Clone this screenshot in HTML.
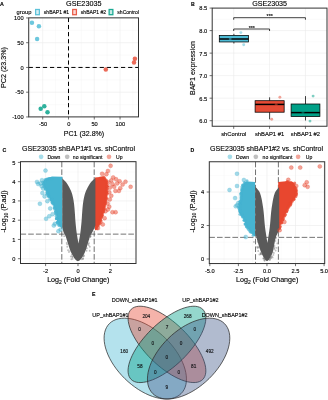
<!DOCTYPE html>
<html lang="en"><head><meta charset="utf-8"><title>GSE23035 BAP1 knockdown figure</title>
<style>html,body{margin:0;padding:0;background:#fff}svg{display:block;will-change:transform}text{font-family:"Liberation Sans",sans-serif;stroke:#000;stroke-width:0.16px;stroke-opacity:0.75}</style></head><body>
<svg width="328" height="400" viewBox="0 0 328 400">
<rect x="0" y="0" width="328" height="400" fill="#ffffff"/>
<text x="0.1" y="6" font-size="5.3" text-anchor="start" fill="#000" font-weight="bold">A</text>
<text x="83.8" y="6.1" font-size="7.25" text-anchor="middle" fill="#000">GSE23035</text>
<text x="16.6" y="14.2" font-size="5.8" text-anchor="start" fill="#000">group</text>
<rect x="35.65" y="9.5" width="3.7" height="5.2" fill="#ffffff" stroke="#4DBBD5" stroke-width="1.3" stroke-opacity="0.9"/>
<rect x="36.3" y="10.15" width="2.4" height="3.9" fill="#4DBBD5" fill-opacity="0.22"/>
<text x="43.8" y="14.15" font-size="5.05" text-anchor="start" fill="#000">shBAP1 #1</text>
<rect x="72.7" y="9.5" width="3.7" height="5.2" fill="#ffffff" stroke="#E64B35" stroke-width="1.3" stroke-opacity="0.9"/>
<rect x="73.35" y="10.15" width="2.4" height="3.9" fill="#E64B35" fill-opacity="0.22"/>
<text x="80.85" y="14.15" font-size="5.05" text-anchor="start" fill="#000">shBAP1 #2</text>
<rect x="109.15" y="9.5" width="3.7" height="5.2" fill="#ffffff" stroke="#00A087" stroke-width="1.3" stroke-opacity="0.9"/>
<rect x="109.8" y="10.15" width="2.4" height="3.9" fill="#00A087" fill-opacity="0.22"/>
<text x="117.3" y="14.15" font-size="5.05" text-anchor="start" fill="#000">shControl</text>
<rect x="28.7" y="17.85" width="109.8" height="99.05" fill="#ffffff"/>
<line x1="28.7" y1="104.58" x2="138.5" y2="104.58" stroke="#f3f3f3" stroke-width="0.35"/>
<line x1="28.7" y1="79.83" x2="138.5" y2="79.83" stroke="#f3f3f3" stroke-width="0.35"/>
<line x1="28.7" y1="55.08" x2="138.5" y2="55.08" stroke="#f3f3f3" stroke-width="0.35"/>
<line x1="28.7" y1="30.33" x2="138.5" y2="30.33" stroke="#f3f3f3" stroke-width="0.35"/>
<line x1="29.83" y1="17.85" x2="29.83" y2="116.9" stroke="#f3f3f3" stroke-width="0.35"/>
<line x1="55.61" y1="17.85" x2="55.61" y2="116.9" stroke="#f3f3f3" stroke-width="0.35"/>
<line x1="81.39" y1="17.85" x2="81.39" y2="116.9" stroke="#f3f3f3" stroke-width="0.35"/>
<line x1="107.17" y1="17.85" x2="107.17" y2="116.9" stroke="#f3f3f3" stroke-width="0.35"/>
<line x1="132.95" y1="17.85" x2="132.95" y2="116.9" stroke="#f3f3f3" stroke-width="0.35"/>
<line x1="28.7" y1="92.2" x2="138.5" y2="92.2" stroke="#ebebeb" stroke-width="0.6"/>
<line x1="28.7" y1="67.45" x2="138.5" y2="67.45" stroke="#ebebeb" stroke-width="0.6"/>
<line x1="28.7" y1="42.7" x2="138.5" y2="42.7" stroke="#ebebeb" stroke-width="0.6"/>
<line x1="42.72" y1="17.85" x2="42.72" y2="116.9" stroke="#ebebeb" stroke-width="0.6"/>
<line x1="68.5" y1="17.85" x2="68.5" y2="116.9" stroke="#ebebeb" stroke-width="0.6"/>
<line x1="94.28" y1="17.85" x2="94.28" y2="116.9" stroke="#ebebeb" stroke-width="0.6"/>
<line x1="120.06" y1="17.85" x2="120.06" y2="116.9" stroke="#ebebeb" stroke-width="0.6"/>
<line x1="28.7" y1="67.45" x2="138.5" y2="67.45" stroke="#000" stroke-width="1" stroke-dasharray="4.2 2.9"/>
<line x1="68.5" y1="17.85" x2="68.5" y2="116.9" stroke="#000" stroke-width="1" stroke-dasharray="4.2 2.9"/>
<circle cx="31.95" cy="22.75" r="2.25" fill="#4DBBD5" fill-opacity="0.82"/>
<circle cx="38.9" cy="26.2" r="2.25" fill="#4DBBD5" fill-opacity="0.82"/>
<circle cx="37.1" cy="39" r="2.25" fill="#4DBBD5" fill-opacity="0.82"/>
<circle cx="40.7" cy="108.7" r="2.25" fill="#00A087" fill-opacity="0.82"/>
<circle cx="44.3" cy="106.3" r="2.25" fill="#00A087" fill-opacity="0.82"/>
<circle cx="47.5" cy="112.3" r="2.25" fill="#00A087" fill-opacity="0.82"/>
<circle cx="105.8" cy="69.45" r="2.25" fill="#E64B35" fill-opacity="0.82"/>
<circle cx="134.9" cy="58.7" r="2.25" fill="#E64B35" fill-opacity="0.82"/>
<circle cx="134" cy="62.5" r="2.25" fill="#E64B35" fill-opacity="0.82"/>
<rect x="28.7" y="17.85" width="109.8" height="99.05" fill="none" stroke="#333333" stroke-width="1"/>
<line x1="26.1" y1="116.95" x2="28.7" y2="116.95" stroke="#333333" stroke-width="0.7"/>
<text x="23.6" y="119.05" font-size="5.7" text-anchor="end" fill="#000">-100</text>
<line x1="26.1" y1="92.2" x2="28.7" y2="92.2" stroke="#333333" stroke-width="0.7"/>
<text x="23.6" y="94.3" font-size="5.7" text-anchor="end" fill="#000">-50</text>
<line x1="26.1" y1="67.45" x2="28.7" y2="67.45" stroke="#333333" stroke-width="0.7"/>
<text x="23.6" y="69.55" font-size="5.7" text-anchor="end" fill="#000">0</text>
<line x1="26.1" y1="42.7" x2="28.7" y2="42.7" stroke="#333333" stroke-width="0.7"/>
<text x="23.6" y="44.8" font-size="5.7" text-anchor="end" fill="#000">50</text>
<line x1="26.1" y1="17.95" x2="28.7" y2="17.95" stroke="#333333" stroke-width="0.7"/>
<text x="23.6" y="20.05" font-size="5.7" text-anchor="end" fill="#000">100</text>
<line x1="42.72" y1="116.9" x2="42.72" y2="119.5" stroke="#333333" stroke-width="0.7"/>
<text x="43.02" y="126.3" font-size="5.7" text-anchor="middle" fill="#000">-50</text>
<line x1="68.5" y1="116.9" x2="68.5" y2="119.5" stroke="#333333" stroke-width="0.7"/>
<text x="68.8" y="126.3" font-size="5.7" text-anchor="middle" fill="#000">0</text>
<line x1="94.28" y1="116.9" x2="94.28" y2="119.5" stroke="#333333" stroke-width="0.7"/>
<text x="94.58" y="126.3" font-size="5.7" text-anchor="middle" fill="#000">50</text>
<line x1="120.06" y1="116.9" x2="120.06" y2="119.5" stroke="#333333" stroke-width="0.7"/>
<text x="120.36" y="126.3" font-size="5.7" text-anchor="middle" fill="#000">100</text>
<text x="84" y="135.5" font-size="7.05" text-anchor="middle" fill="#000">PC1 (32.8%)</text>
<text x="6.4" y="67.5" font-size="7.15" text-anchor="middle" fill="#000" transform="rotate(-90 6.4 67.5)">PC2 (23.3%)</text>
<text x="191.1" y="6.1" font-size="5.2" text-anchor="start" fill="#000" font-weight="bold">B</text>
<text x="269.6" y="5.8" font-size="7.15" text-anchor="middle" fill="#000">GSE23035</text>
<rect x="212.2" y="8.1" width="114.8" height="118.15" fill="#ffffff"/>
<line x1="212.2" y1="109.44" x2="327" y2="109.44" stroke="#f3f3f3" stroke-width="0.35"/>
<line x1="212.2" y1="86.91" x2="327" y2="86.91" stroke="#f3f3f3" stroke-width="0.35"/>
<line x1="212.2" y1="64.39" x2="327" y2="64.39" stroke="#f3f3f3" stroke-width="0.35"/>
<line x1="212.2" y1="41.86" x2="327" y2="41.86" stroke="#f3f3f3" stroke-width="0.35"/>
<line x1="212.2" y1="19.34" x2="327" y2="19.34" stroke="#f3f3f3" stroke-width="0.35"/>
<line x1="212.2" y1="120.7" x2="327" y2="120.7" stroke="#ebebeb" stroke-width="0.6"/>
<line x1="212.2" y1="98.18" x2="327" y2="98.18" stroke="#ebebeb" stroke-width="0.6"/>
<line x1="212.2" y1="75.65" x2="327" y2="75.65" stroke="#ebebeb" stroke-width="0.6"/>
<line x1="212.2" y1="53.13" x2="327" y2="53.13" stroke="#ebebeb" stroke-width="0.6"/>
<line x1="212.2" y1="30.6" x2="327" y2="30.6" stroke="#ebebeb" stroke-width="0.6"/>
<line x1="233.7" y1="8.1" x2="233.7" y2="126.25" stroke="#ebebeb" stroke-width="0.6"/>
<line x1="269.55" y1="8.1" x2="269.55" y2="126.25" stroke="#ebebeb" stroke-width="0.6"/>
<line x1="305.45" y1="8.1" x2="305.45" y2="126.25" stroke="#ebebeb" stroke-width="0.6"/>
<line x1="233.9" y1="33.8" x2="233.9" y2="35.4" stroke="#000" stroke-width="0.75"/>
<line x1="233.9" y1="41.95" x2="233.9" y2="43.5" stroke="#000" stroke-width="0.75"/>
<rect x="219.3" y="35.4" width="29.2" height="6.55" fill="#4DBBD5" stroke="#000" stroke-width="0.75"/>
<line x1="219.3" y1="39" x2="248.5" y2="39" stroke="#000" stroke-width="1.5"/>
<line x1="269.62" y1="97.3" x2="269.62" y2="100.7" stroke="#000" stroke-width="0.75"/>
<line x1="269.62" y1="112.2" x2="269.62" y2="119.3" stroke="#000" stroke-width="0.75"/>
<rect x="255.1" y="100.7" width="29.05" height="11.5" fill="#E64B35" stroke="#000" stroke-width="0.75"/>
<line x1="255.1" y1="104.4" x2="284.15" y2="104.4" stroke="#000" stroke-width="1.5"/>
<line x1="305.5" y1="96.1" x2="305.5" y2="104" stroke="#000" stroke-width="0.75"/>
<line x1="305.5" y1="116.6" x2="305.5" y2="120.5" stroke="#000" stroke-width="0.75"/>
<rect x="291.1" y="104" width="28.8" height="12.6" fill="#00A087" stroke="#000" stroke-width="0.75"/>
<line x1="291.1" y1="112.6" x2="319.9" y2="112.6" stroke="#000" stroke-width="1.5"/>
<circle cx="240.85" cy="32.6" r="1.45" fill="#4DBBD5" fill-opacity="0.5"/>
<circle cx="243.7" cy="44.75" r="1.45" fill="#4DBBD5" fill-opacity="0.5"/>
<circle cx="230.2" cy="39" r="1.45" fill="#4DBBD5" fill-opacity="0.5"/>
<circle cx="279.9" cy="97.3" r="1.45" fill="#E64B35" fill-opacity="0.5"/>
<circle cx="271.7" cy="119.3" r="1.45" fill="#E64B35" fill-opacity="0.5"/>
<circle cx="276.2" cy="104.6" r="1.45" fill="#E64B35" fill-opacity="0.5"/>
<circle cx="313.1" cy="96.1" r="1.45" fill="#00A087" fill-opacity="0.5"/>
<circle cx="310" cy="121.1" r="1.45" fill="#00A087" fill-opacity="0.5"/>
<circle cx="303" cy="112.6" r="1.45" fill="#00A087" fill-opacity="0.5"/>
<polyline points="233.7,31 233.7,29 269.55,29 269.55,31" fill="none" stroke="#000" stroke-width="0.75"/>
<text x="251.82" y="29.6" font-size="5.4" text-anchor="middle" fill="#000">***</text>
<polyline points="233.7,19.7 233.7,17.7 305.45,17.7 305.45,19.7" fill="none" stroke="#000" stroke-width="0.75"/>
<text x="269.77" y="18.3" font-size="5.4" text-anchor="middle" fill="#000">***</text>
<rect x="212.2" y="8.1" width="114.8" height="118.15" fill="none" stroke="#333333" stroke-width="1"/>
<line x1="209.6" y1="120.7" x2="212.2" y2="120.7" stroke="#333333" stroke-width="0.7"/>
<text x="207.2" y="123.1" font-size="5.7" text-anchor="end" fill="#000">6.0</text>
<line x1="209.6" y1="98.18" x2="212.2" y2="98.18" stroke="#333333" stroke-width="0.7"/>
<text x="207.2" y="100.58" font-size="5.7" text-anchor="end" fill="#000">6.5</text>
<line x1="209.6" y1="75.65" x2="212.2" y2="75.65" stroke="#333333" stroke-width="0.7"/>
<text x="207.2" y="78.05" font-size="5.7" text-anchor="end" fill="#000">7.0</text>
<line x1="209.6" y1="53.13" x2="212.2" y2="53.13" stroke="#333333" stroke-width="0.7"/>
<text x="207.2" y="55.53" font-size="5.7" text-anchor="end" fill="#000">7.5</text>
<line x1="209.6" y1="30.6" x2="212.2" y2="30.6" stroke="#333333" stroke-width="0.7"/>
<text x="207.2" y="33" font-size="5.7" text-anchor="end" fill="#000">8.0</text>
<line x1="209.6" y1="8.08" x2="212.2" y2="8.08" stroke="#333333" stroke-width="0.7"/>
<text x="207.2" y="10.48" font-size="5.7" text-anchor="end" fill="#000">8.5</text>
<line x1="233.7" y1="126.25" x2="233.7" y2="128.85" stroke="#333333" stroke-width="0.7"/>
<text x="233.7" y="135.65" font-size="5.85" text-anchor="middle" fill="#000">shControl</text>
<line x1="269.55" y1="126.25" x2="269.55" y2="128.85" stroke="#333333" stroke-width="0.7"/>
<text x="269.55" y="135.65" font-size="5.85" text-anchor="middle" fill="#000">shBAP1 #1</text>
<line x1="305.45" y1="126.25" x2="305.45" y2="128.85" stroke="#333333" stroke-width="0.7"/>
<text x="305.45" y="135.65" font-size="5.85" text-anchor="middle" fill="#000">shBAP1 #2</text>
<text x="194.5" y="68" font-size="7.05" text-anchor="middle" fill="#000" transform="rotate(-90 194.5 68)">BAP1 expression</text>
<text x="2.6" y="152.4" font-size="5.2" text-anchor="start" fill="#000" font-weight="bold">C</text>
<text x="78.6" y="150.8" font-size="7.07" text-anchor="middle" fill="#000">GSE23035 shBAP1#1 vs. shControl</text>
<circle cx="41.1" cy="156.8" r="2.35" fill="#4DBBD5" fill-opacity="0.5"/>
<text x="47.4" y="158.55" font-size="5.1" text-anchor="start" fill="#000">Down</text>
<circle cx="67.2" cy="156.8" r="2.35" fill="#808080" fill-opacity="0.5"/>
<text x="72.8" y="158.55" font-size="5.1" text-anchor="start" fill="#000">no significant</text>
<circle cx="109" cy="156.8" r="2.35" fill="#E64B35" fill-opacity="0.5"/>
<text x="116" y="158.55" font-size="5.1" text-anchor="start" fill="#000">Up</text>
<rect x="20.5" y="161.65" width="115.5" height="101.85" fill="#ffffff"/>
<line x1="29.4" y1="161.65" x2="29.4" y2="263.5" stroke="#f3f3f3" stroke-width="0.35"/>
<line x1="61.8" y1="161.65" x2="61.8" y2="263.5" stroke="#f3f3f3" stroke-width="0.35"/>
<line x1="94.2" y1="161.65" x2="94.2" y2="263.5" stroke="#f3f3f3" stroke-width="0.35"/>
<line x1="126.6" y1="161.65" x2="126.6" y2="263.5" stroke="#f3f3f3" stroke-width="0.35"/>
<line x1="20.5" y1="249.07" x2="136" y2="249.07" stroke="#f3f3f3" stroke-width="0.35"/>
<line x1="20.5" y1="229.81" x2="136" y2="229.81" stroke="#f3f3f3" stroke-width="0.35"/>
<line x1="20.5" y1="210.55" x2="136" y2="210.55" stroke="#f3f3f3" stroke-width="0.35"/>
<line x1="20.5" y1="191.29" x2="136" y2="191.29" stroke="#f3f3f3" stroke-width="0.35"/>
<line x1="20.5" y1="172.03" x2="136" y2="172.03" stroke="#f3f3f3" stroke-width="0.35"/>
<line x1="45.6" y1="161.65" x2="45.6" y2="263.5" stroke="#ebebeb" stroke-width="0.6"/>
<line x1="78" y1="161.65" x2="78" y2="263.5" stroke="#ebebeb" stroke-width="0.6"/>
<line x1="110.4" y1="161.65" x2="110.4" y2="263.5" stroke="#ebebeb" stroke-width="0.6"/>
<line x1="20.5" y1="258.7" x2="136" y2="258.7" stroke="#ebebeb" stroke-width="0.6"/>
<line x1="20.5" y1="239.44" x2="136" y2="239.44" stroke="#ebebeb" stroke-width="0.6"/>
<line x1="20.5" y1="220.18" x2="136" y2="220.18" stroke="#ebebeb" stroke-width="0.6"/>
<line x1="20.5" y1="200.92" x2="136" y2="200.92" stroke="#ebebeb" stroke-width="0.6"/>
<line x1="20.5" y1="181.66" x2="136" y2="181.66" stroke="#ebebeb" stroke-width="0.6"/>
<line x1="20.5" y1="162.4" x2="136" y2="162.4" stroke="#ebebeb" stroke-width="0.6"/>
<line x1="20.5" y1="234.14" x2="136" y2="234.14" stroke="#444444" stroke-width="0.75" stroke-dasharray="5.6 2.1"/>
<line x1="61.8" y1="161.65" x2="61.8" y2="263.5" stroke="#444444" stroke-width="0.75" stroke-dasharray="5.6 2.1"/>
<line x1="94.2" y1="161.65" x2="94.2" y2="263.5" stroke="#444444" stroke-width="0.75" stroke-dasharray="5.6 2.1"/>
<g clip-path="url(#clipC)">
<clipPath id="clipC"><rect x="20.5" y="161.65" width="115.5" height="101.85"/></clipPath>
<polygon points="62.4,176.7 52,176.5 47.5,178 44.2,179.8 43,182.5 43.6,185.6 45.5,188.8 46.8,193.8 49.3,197.5 51.8,202.5 54.3,207.5 56.1,213.8 56.6,219 57.6,223.5 59.6,226.6 62.4,228.2" fill="#46B4D1"/>
<circle cx="51.55" cy="179.06" r="1.5" fill="#46B4D1" fill-opacity="0.7"/>
<circle cx="50.46" cy="178.41" r="1.5" fill="#46B4D1" fill-opacity="0.7"/>
<circle cx="49.33" cy="178.57" r="1.5" fill="#46B4D1" fill-opacity="0.7"/>
<circle cx="48.23" cy="178.77" r="1.5" fill="#46B4D1" fill-opacity="0.7"/>
<circle cx="46.96" cy="178.96" r="1.5" fill="#46B4D1" fill-opacity="0.7"/>
<circle cx="46.37" cy="179.78" r="1.5" fill="#46B4D1" fill-opacity="0.7"/>
<circle cx="45.28" cy="179.49" r="1.5" fill="#46B4D1" fill-opacity="0.7"/>
<circle cx="44.88" cy="181.56" r="1.5" fill="#46B4D1" fill-opacity="0.7"/>
<circle cx="42.8" cy="182.09" r="1.5" fill="#46B4D1" fill-opacity="0.7"/>
<circle cx="43.66" cy="184.28" r="1.5" fill="#46B4D1" fill-opacity="0.7"/>
<circle cx="43.2" cy="184.06" r="1.5" fill="#46B4D1" fill-opacity="0.7"/>
<circle cx="43.97" cy="186.18" r="1.5" fill="#46B4D1" fill-opacity="0.7"/>
<circle cx="44.73" cy="187.45" r="1.5" fill="#46B4D1" fill-opacity="0.7"/>
<circle cx="45.44" cy="188.65" r="1.5" fill="#46B4D1" fill-opacity="0.7"/>
<circle cx="45.74" cy="189.49" r="1.5" fill="#46B4D1" fill-opacity="0.7"/>
<circle cx="46.95" cy="192.05" r="1.5" fill="#46B4D1" fill-opacity="0.7"/>
<circle cx="47.06" cy="192.82" r="1.5" fill="#46B4D1" fill-opacity="0.7"/>
<circle cx="47.56" cy="193.96" r="1.5" fill="#46B4D1" fill-opacity="0.7"/>
<circle cx="46.8" cy="194.17" r="1.5" fill="#46B4D1" fill-opacity="0.7"/>
<circle cx="48.44" cy="195.85" r="1.5" fill="#46B4D1" fill-opacity="0.7"/>
<circle cx="48.74" cy="196.31" r="1.5" fill="#46B4D1" fill-opacity="0.7"/>
<circle cx="48.76" cy="196.66" r="1.5" fill="#46B4D1" fill-opacity="0.7"/>
<circle cx="51.6" cy="198.67" r="1.5" fill="#46B4D1" fill-opacity="0.7"/>
<circle cx="49.79" cy="198.9" r="1.5" fill="#46B4D1" fill-opacity="0.7"/>
<circle cx="51.19" cy="199.91" r="1.5" fill="#46B4D1" fill-opacity="0.7"/>
<circle cx="51.27" cy="200.09" r="1.5" fill="#46B4D1" fill-opacity="0.7"/>
<circle cx="51.98" cy="199.52" r="1.5" fill="#46B4D1" fill-opacity="0.7"/>
<circle cx="52" cy="202.62" r="1.5" fill="#46B4D1" fill-opacity="0.7"/>
<circle cx="52.24" cy="201.92" r="1.5" fill="#46B4D1" fill-opacity="0.7"/>
<circle cx="52.68" cy="203.08" r="1.5" fill="#46B4D1" fill-opacity="0.7"/>
<circle cx="53.02" cy="203.89" r="1.5" fill="#46B4D1" fill-opacity="0.7"/>
<circle cx="54.45" cy="208.32" r="1.5" fill="#46B4D1" fill-opacity="0.7"/>
<circle cx="54.17" cy="206.98" r="1.5" fill="#46B4D1" fill-opacity="0.7"/>
<circle cx="54.6" cy="208.52" r="1.5" fill="#46B4D1" fill-opacity="0.7"/>
<circle cx="55.24" cy="210.78" r="1.5" fill="#46B4D1" fill-opacity="0.7"/>
<circle cx="55.6" cy="212.06" r="1.5" fill="#46B4D1" fill-opacity="0.7"/>
<circle cx="55.61" cy="212.06" r="1.5" fill="#46B4D1" fill-opacity="0.7"/>
<circle cx="55.9" cy="213.55" r="1.5" fill="#46B4D1" fill-opacity="0.7"/>
<circle cx="55.95" cy="214.1" r="1.5" fill="#46B4D1" fill-opacity="0.7"/>
<circle cx="56.28" cy="216.33" r="1.5" fill="#46B4D1" fill-opacity="0.7"/>
<circle cx="56.49" cy="218.5" r="1.5" fill="#46B4D1" fill-opacity="0.7"/>
<circle cx="56.53" cy="218.68" r="1.5" fill="#46B4D1" fill-opacity="0.7"/>
<circle cx="56.48" cy="218.47" r="1.5" fill="#46B4D1" fill-opacity="0.7"/>
<circle cx="57.32" cy="222.23" r="1.5" fill="#46B4D1" fill-opacity="0.7"/>
<circle cx="57.34" cy="222.34" r="1.5" fill="#46B4D1" fill-opacity="0.7"/>
<circle cx="57.61" cy="223.05" r="1.5" fill="#46B4D1" fill-opacity="0.7"/>
<circle cx="58.53" cy="224.34" r="1.5" fill="#46B4D1" fill-opacity="0.7"/>
<circle cx="58.95" cy="225.54" r="1.5" fill="#46B4D1" fill-opacity="0.7"/>
<polygon points="95,177.5 100,176.9 103.5,176.6 106.6,180 107.4,185 107.2,194.4 106.8,197.5 106.1,201.25 104.9,207.5 103.2,213.75 100.9,220 98.9,225.6 96.9,229.2 95,230.4" fill="#E8472F"/>
<circle cx="100.22" cy="178.1" r="1.5" fill="#E8472F" fill-opacity="0.7"/>
<circle cx="101.89" cy="177.74" r="1.5" fill="#E8472F" fill-opacity="0.7"/>
<circle cx="102.72" cy="179.3" r="1.5" fill="#E8472F" fill-opacity="0.7"/>
<circle cx="103.87" cy="177.12" r="1.5" fill="#E8472F" fill-opacity="0.7"/>
<circle cx="104.68" cy="178.3" r="1.5" fill="#E8472F" fill-opacity="0.7"/>
<circle cx="105.03" cy="179.5" r="1.5" fill="#E8472F" fill-opacity="0.7"/>
<circle cx="106.44" cy="180.36" r="1.5" fill="#E8472F" fill-opacity="0.7"/>
<circle cx="106.38" cy="181.46" r="1.5" fill="#E8472F" fill-opacity="0.7"/>
<circle cx="106.9" cy="182.38" r="1.5" fill="#E8472F" fill-opacity="0.7"/>
<circle cx="106.95" cy="184.55" r="1.5" fill="#E8472F" fill-opacity="0.7"/>
<circle cx="106.97" cy="186.16" r="1.5" fill="#E8472F" fill-opacity="0.7"/>
<circle cx="107.03" cy="186.27" r="1.5" fill="#E8472F" fill-opacity="0.7"/>
<circle cx="107.33" cy="186.34" r="1.5" fill="#E8472F" fill-opacity="0.7"/>
<circle cx="107.03" cy="188.96" r="1.5" fill="#E8472F" fill-opacity="0.7"/>
<circle cx="107.24" cy="189.03" r="1.5" fill="#E8472F" fill-opacity="0.7"/>
<circle cx="106.61" cy="191.56" r="1.5" fill="#E8472F" fill-opacity="0.7"/>
<circle cx="106.94" cy="191.76" r="1.5" fill="#E8472F" fill-opacity="0.7"/>
<circle cx="106.76" cy="193.19" r="1.5" fill="#E8472F" fill-opacity="0.7"/>
<circle cx="107.19" cy="193.91" r="1.5" fill="#E8472F" fill-opacity="0.7"/>
<circle cx="106.18" cy="196.09" r="1.5" fill="#E8472F" fill-opacity="0.7"/>
<circle cx="106.31" cy="197.79" r="1.5" fill="#E8472F" fill-opacity="0.7"/>
<circle cx="106.29" cy="198.17" r="1.5" fill="#E8472F" fill-opacity="0.7"/>
<circle cx="106.25" cy="199.4" r="1.5" fill="#E8472F" fill-opacity="0.7"/>
<circle cx="105.74" cy="200.55" r="1.5" fill="#E8472F" fill-opacity="0.7"/>
<circle cx="105.78" cy="201.92" r="1.5" fill="#E8472F" fill-opacity="0.7"/>
<circle cx="105.53" cy="203.53" r="1.5" fill="#E8472F" fill-opacity="0.7"/>
<circle cx="104.53" cy="203.9" r="1.5" fill="#E8472F" fill-opacity="0.7"/>
<circle cx="104.32" cy="204.28" r="1.5" fill="#E8472F" fill-opacity="0.7"/>
<circle cx="104.85" cy="205.94" r="1.5" fill="#E8472F" fill-opacity="0.7"/>
<circle cx="104.4" cy="208" r="1.5" fill="#E8472F" fill-opacity="0.7"/>
<circle cx="104.2" cy="209.1" r="1.5" fill="#E8472F" fill-opacity="0.7"/>
<circle cx="103.88" cy="210.07" r="1.5" fill="#E8472F" fill-opacity="0.7"/>
<circle cx="103.61" cy="211.07" r="1.5" fill="#E8472F" fill-opacity="0.7"/>
<circle cx="103.1" cy="212.36" r="1.5" fill="#E8472F" fill-opacity="0.7"/>
<circle cx="103.04" cy="211.88" r="1.5" fill="#E8472F" fill-opacity="0.7"/>
<circle cx="102.46" cy="214.66" r="1.5" fill="#E8472F" fill-opacity="0.7"/>
<circle cx="102.16" cy="215.49" r="1.5" fill="#E8472F" fill-opacity="0.7"/>
<circle cx="101.78" cy="215.77" r="1.5" fill="#E8472F" fill-opacity="0.7"/>
<circle cx="101.59" cy="216.9" r="1.5" fill="#E8472F" fill-opacity="0.7"/>
<circle cx="101.11" cy="217.59" r="1.5" fill="#E8472F" fill-opacity="0.7"/>
<circle cx="100.76" cy="220.17" r="1.5" fill="#E8472F" fill-opacity="0.7"/>
<circle cx="100.49" cy="219.53" r="1.5" fill="#E8472F" fill-opacity="0.7"/>
<circle cx="100.02" cy="221.47" r="1.5" fill="#E8472F" fill-opacity="0.7"/>
<circle cx="99.45" cy="224.05" r="1.5" fill="#E8472F" fill-opacity="0.7"/>
<circle cx="99.57" cy="222.27" r="1.5" fill="#E8472F" fill-opacity="0.7"/>
<circle cx="98.72" cy="224.04" r="1.5" fill="#E8472F" fill-opacity="0.7"/>
<circle cx="98.04" cy="226" r="1.5" fill="#E8472F" fill-opacity="0.7"/>
<circle cx="97.15" cy="228.84" r="1.5" fill="#E8472F" fill-opacity="0.7"/>
<polygon points="62.3,178.3 62.75,178.77 63.38,179.41 64.12,180.18 64.91,181 65.66,181.83 66.3,182.6 66.84,183.31 67.32,183.99 67.78,184.67 68.21,185.39 68.65,186.16 69.1,187 69.58,187.93 70.07,188.91 70.57,189.96 71.05,191.04 71.5,192.16 71.9,193.3 72.26,194.47 72.57,195.67 72.86,196.9 73.13,198.17 73.37,199.47 73.6,200.8 73.81,202.14 73.99,203.47 74.15,204.84 74.3,206.27 74.45,207.82 74.6,209.5 74.75,211.38 74.9,213.44 75.04,215.61 75.18,217.8 75.33,219.96 75.5,222 75.68,223.92 75.86,225.79 76.04,227.62 76.24,229.42 76.46,231.21 76.7,233 76.99,234.91 77.32,236.96 77.67,238.99 78.01,240.87 78.3,242.45 78.5,243.6 78.7,242.45 78.99,240.87 79.33,238.99 79.68,236.96 80.01,234.91 80.3,233 80.54,231.21 80.76,229.42 80.96,227.62 81.14,225.79 81.32,223.92 81.5,222 81.67,219.96 81.82,217.8 81.96,215.61 82.1,213.44 82.25,211.38 82.4,209.5 82.55,207.82 82.7,206.27 82.85,204.84 83.01,203.47 83.19,202.14 83.4,200.8 83.63,199.47 83.87,198.17 84.14,196.9 84.43,195.67 84.74,194.47 85.1,193.3 85.5,192.16 85.95,191.04 86.43,189.96 86.93,188.91 87.42,187.93 87.9,187 88.35,186.16 88.79,185.39 89.22,184.67 89.68,183.99 90.16,183.31 90.7,182.6 91.34,181.83 92.09,181 92.88,180.18 93.62,179.41 94.25,178.77 95.4,178.3 95.4,225.5 95.14,226.1 94.79,226.94 94.38,227.94 93.92,229 93.45,230.05 93,231 92.55,231.84 92.07,232.63 91.59,233.41 91.1,234.2 90.64,235.06 90.2,236 89.8,237.05 89.42,238.19 89.06,239.38 88.71,240.59 88.36,241.81 88,243 87.64,244.18 87.29,245.37 86.94,246.56 86.58,247.74 86.2,248.89 85.8,250 85.37,251.08 84.91,252.16 84.43,253.2 83.95,254.2 83.47,255.14 83,256 82.54,256.79 82.08,257.52 81.62,258.19 81.17,258.79 80.73,259.33 80.3,259.8 79.85,260.19 79.39,260.5 78.93,260.74 78.51,260.93 78.16,261.08 77.9,261.2 77.9,261.2 77.65,261.08 77.31,260.93 76.91,260.74 76.47,260.5 76.03,260.19 75.6,259.8 75.19,259.33 74.77,258.79 74.34,258.19 73.9,257.52 73.45,256.79 73,256 72.53,255.14 72.03,254.2 71.53,253.2 71.03,252.16 70.55,251.08 70.1,250 69.68,248.89 69.29,247.74 68.91,246.56 68.54,245.37 68.18,244.18 67.8,243 67.41,241.8 67.02,240.56 66.63,239.31 66.24,238.11 65.87,236.99 65.5,236 65.14,235.17 64.78,234.48 64.43,233.88 64.1,233.3 63.78,232.69 63.5,232 63.24,231.17 63,230.22 62.77,229.25 62.58,228.33 62.42,227.56 62.3,227" fill="#5a5a5a"/>
<circle cx="67.26" cy="246.74" r="0.95" fill="#757575" fill-opacity="0.45"/>
<circle cx="70.24" cy="250.67" r="0.95" fill="#757575" fill-opacity="0.45"/>
<circle cx="71.86" cy="254.74" r="0.95" fill="#757575" fill-opacity="0.45"/>
<circle cx="72.55" cy="258.87" r="0.95" fill="#757575" fill-opacity="0.45"/>
<circle cx="72.67" cy="256.94" r="0.95" fill="#757575" fill-opacity="0.45"/>
<circle cx="66.74" cy="242.96" r="0.95" fill="#757575" fill-opacity="0.45"/>
<circle cx="68.97" cy="251.95" r="0.95" fill="#757575" fill-opacity="0.45"/>
<circle cx="72.2" cy="256.86" r="0.95" fill="#757575" fill-opacity="0.45"/>
<circle cx="64.2" cy="236.15" r="0.95" fill="#757575" fill-opacity="0.45"/>
<circle cx="70.83" cy="256.46" r="0.95" fill="#757575" fill-opacity="0.45"/>
<circle cx="67.09" cy="244.33" r="0.95" fill="#757575" fill-opacity="0.45"/>
<circle cx="68.07" cy="250.2" r="0.95" fill="#757575" fill-opacity="0.45"/>
<circle cx="71.37" cy="259.31" r="0.95" fill="#757575" fill-opacity="0.45"/>
<circle cx="89.83" cy="246.81" r="0.95" fill="#757575" fill-opacity="0.45"/>
<circle cx="88.74" cy="245.26" r="0.95" fill="#757575" fill-opacity="0.45"/>
<circle cx="83.08" cy="258.74" r="0.95" fill="#757575" fill-opacity="0.45"/>
<circle cx="84" cy="255.43" r="0.95" fill="#757575" fill-opacity="0.45"/>
<circle cx="90.34" cy="236.65" r="0.95" fill="#757575" fill-opacity="0.45"/>
<circle cx="81.7" cy="259.2" r="0.95" fill="#757575" fill-opacity="0.45"/>
<circle cx="82.92" cy="256.48" r="0.95" fill="#757575" fill-opacity="0.45"/>
<circle cx="88.19" cy="243.92" r="0.95" fill="#757575" fill-opacity="0.45"/>
<circle cx="90.15" cy="237.11" r="0.95" fill="#757575" fill-opacity="0.45"/>
<circle cx="83.63" cy="256.19" r="0.95" fill="#757575" fill-opacity="0.45"/>
<circle cx="86.56" cy="250.72" r="0.95" fill="#757575" fill-opacity="0.45"/>
<circle cx="82.88" cy="258.75" r="0.95" fill="#757575" fill-opacity="0.45"/>
<circle cx="90.48" cy="236.08" r="0.95" fill="#757575" fill-opacity="0.45"/>
<circle cx="86.91" cy="248.28" r="0.95" fill="#757575" fill-opacity="0.45"/>
<circle cx="90.36" cy="236.04" r="0.95" fill="#757575" fill-opacity="0.45"/>
<circle cx="89.75" cy="250.81" r="0.95" fill="#757575" fill-opacity="0.45"/>
<circle cx="89.01" cy="243.12" r="0.95" fill="#757575" fill-opacity="0.45"/>
<circle cx="45.5" cy="170.6" r="2" fill="#46B4D1" fill-opacity="0.5" stroke="#46B4D1" stroke-width="0.5" stroke-opacity="0.5"/>
<circle cx="37" cy="181.9" r="2" fill="#46B4D1" fill-opacity="0.5" stroke="#46B4D1" stroke-width="0.5" stroke-opacity="0.5"/>
<circle cx="38.2" cy="184" r="2" fill="#46B4D1" fill-opacity="0.5" stroke="#46B4D1" stroke-width="0.5" stroke-opacity="0.5"/>
<circle cx="42.4" cy="193.1" r="2" fill="#46B4D1" fill-opacity="0.5" stroke="#46B4D1" stroke-width="0.5" stroke-opacity="0.5"/>
<circle cx="39.9" cy="203.75" r="2" fill="#46B4D1" fill-opacity="0.5" stroke="#46B4D1" stroke-width="0.5" stroke-opacity="0.5"/>
<circle cx="41.75" cy="186.25" r="2" fill="#46B4D1" fill-opacity="0.5" stroke="#46B4D1" stroke-width="0.5" stroke-opacity="0.5"/>
<circle cx="49.25" cy="216.25" r="2" fill="#46B4D1" fill-opacity="0.5" stroke="#46B4D1" stroke-width="0.5" stroke-opacity="0.5"/>
<circle cx="46.1" cy="218.75" r="2" fill="#46B4D1" fill-opacity="0.5" stroke="#46B4D1" stroke-width="0.5" stroke-opacity="0.5"/>
<circle cx="54.9" cy="223.75" r="2" fill="#46B4D1" fill-opacity="0.5" stroke="#46B4D1" stroke-width="0.5" stroke-opacity="0.5"/>
<circle cx="53.8" cy="225.6" r="2" fill="#46B4D1" fill-opacity="0.5" stroke="#46B4D1" stroke-width="0.5" stroke-opacity="0.5"/>
<circle cx="58.4" cy="231.2" r="2" fill="#46B4D1" fill-opacity="0.5" stroke="#46B4D1" stroke-width="0.5" stroke-opacity="0.5"/>
<circle cx="60.6" cy="229.6" r="2" fill="#46B4D1" fill-opacity="0.5" stroke="#46B4D1" stroke-width="0.5" stroke-opacity="0.5"/>
<circle cx="40.6" cy="183.4" r="2" fill="#46B4D1" fill-opacity="0.5" stroke="#46B4D1" stroke-width="0.5" stroke-opacity="0.5"/>
<circle cx="43.2" cy="188.6" r="2" fill="#46B4D1" fill-opacity="0.5" stroke="#46B4D1" stroke-width="0.5" stroke-opacity="0.5"/>
<circle cx="44.6" cy="196.4" r="2" fill="#46B4D1" fill-opacity="0.5" stroke="#46B4D1" stroke-width="0.5" stroke-opacity="0.5"/>
<circle cx="47.4" cy="201.2" r="2" fill="#46B4D1" fill-opacity="0.5" stroke="#46B4D1" stroke-width="0.5" stroke-opacity="0.5"/>
<circle cx="50.2" cy="208.4" r="2" fill="#46B4D1" fill-opacity="0.5" stroke="#46B4D1" stroke-width="0.5" stroke-opacity="0.5"/>
<circle cx="52.6" cy="214.2" r="2" fill="#46B4D1" fill-opacity="0.5" stroke="#46B4D1" stroke-width="0.5" stroke-opacity="0.5"/>
<circle cx="42" cy="180.2" r="2" fill="#46B4D1" fill-opacity="0.5" stroke="#46B4D1" stroke-width="0.5" stroke-opacity="0.5"/>
<circle cx="110.6" cy="165.8" r="2" fill="#E8472F" fill-opacity="0.5" stroke="#E8472F" stroke-width="0.5" stroke-opacity="0.5"/>
<circle cx="107.9" cy="171" r="2" fill="#E8472F" fill-opacity="0.5" stroke="#E8472F" stroke-width="0.5" stroke-opacity="0.5"/>
<circle cx="102.1" cy="173.75" r="2" fill="#E8472F" fill-opacity="0.5" stroke="#E8472F" stroke-width="0.5" stroke-opacity="0.5"/>
<circle cx="111.3" cy="180.4" r="2" fill="#E8472F" fill-opacity="0.5" stroke="#E8472F" stroke-width="0.5" stroke-opacity="0.5"/>
<circle cx="116.1" cy="179.25" r="2" fill="#E8472F" fill-opacity="0.5" stroke="#E8472F" stroke-width="0.5" stroke-opacity="0.5"/>
<circle cx="119.6" cy="181.3" r="2" fill="#E8472F" fill-opacity="0.5" stroke="#E8472F" stroke-width="0.5" stroke-opacity="0.5"/>
<circle cx="125.5" cy="181.7" r="2" fill="#E8472F" fill-opacity="0.5" stroke="#E8472F" stroke-width="0.5" stroke-opacity="0.5"/>
<circle cx="130.6" cy="186.8" r="2" fill="#E8472F" fill-opacity="0.5" stroke="#E8472F" stroke-width="0.5" stroke-opacity="0.5"/>
<circle cx="120.25" cy="188.2" r="2" fill="#E8472F" fill-opacity="0.5" stroke="#E8472F" stroke-width="0.5" stroke-opacity="0.5"/>
<circle cx="115.4" cy="190.9" r="2" fill="#E8472F" fill-opacity="0.5" stroke="#E8472F" stroke-width="0.5" stroke-opacity="0.5"/>
<circle cx="118.9" cy="190.9" r="2" fill="#E8472F" fill-opacity="0.5" stroke="#E8472F" stroke-width="0.5" stroke-opacity="0.5"/>
<circle cx="109.25" cy="192.3" r="2" fill="#E8472F" fill-opacity="0.5" stroke="#E8472F" stroke-width="0.5" stroke-opacity="0.5"/>
<circle cx="111.3" cy="195.75" r="2" fill="#E8472F" fill-opacity="0.5" stroke="#E8472F" stroke-width="0.5" stroke-opacity="0.5"/>
<circle cx="109.25" cy="206.75" r="2" fill="#E8472F" fill-opacity="0.5" stroke="#E8472F" stroke-width="0.5" stroke-opacity="0.5"/>
<circle cx="112.5" cy="212.25" r="2" fill="#E8472F" fill-opacity="0.5" stroke="#E8472F" stroke-width="0.5" stroke-opacity="0.5"/>
<circle cx="115.6" cy="212.25" r="2" fill="#E8472F" fill-opacity="0.5" stroke="#E8472F" stroke-width="0.5" stroke-opacity="0.5"/>
<circle cx="100.5" cy="221.9" r="2" fill="#E8472F" fill-opacity="0.5" stroke="#E8472F" stroke-width="0.5" stroke-opacity="0.5"/>
<circle cx="98" cy="228.1" r="2" fill="#E8472F" fill-opacity="0.5" stroke="#E8472F" stroke-width="0.5" stroke-opacity="0.5"/>
<circle cx="105.5" cy="211.25" r="2" fill="#E8472F" fill-opacity="0.5" stroke="#E8472F" stroke-width="0.5" stroke-opacity="0.5"/>
<circle cx="113.2" cy="177.4" r="2" fill="#E8472F" fill-opacity="0.5" stroke="#E8472F" stroke-width="0.5" stroke-opacity="0.5"/>
<circle cx="112.6" cy="184.2" r="2" fill="#E8472F" fill-opacity="0.5" stroke="#E8472F" stroke-width="0.5" stroke-opacity="0.5"/>
<circle cx="110" cy="187.6" r="2" fill="#E8472F" fill-opacity="0.5" stroke="#E8472F" stroke-width="0.5" stroke-opacity="0.5"/>
<circle cx="108.6" cy="182.6" r="2" fill="#E8472F" fill-opacity="0.5" stroke="#E8472F" stroke-width="0.5" stroke-opacity="0.5"/>
<circle cx="109.8" cy="199.4" r="2" fill="#E8472F" fill-opacity="0.5" stroke="#E8472F" stroke-width="0.5" stroke-opacity="0.5"/>
<circle cx="107.6" cy="203.6" r="2" fill="#E8472F" fill-opacity="0.5" stroke="#E8472F" stroke-width="0.5" stroke-opacity="0.5"/>
<circle cx="114.2" cy="186.8" r="2" fill="#E8472F" fill-opacity="0.5" stroke="#E8472F" stroke-width="0.5" stroke-opacity="0.5"/>
<circle cx="117.2" cy="183.4" r="2" fill="#E8472F" fill-opacity="0.5" stroke="#E8472F" stroke-width="0.5" stroke-opacity="0.5"/>
<circle cx="122.6" cy="184.6" r="2" fill="#E8472F" fill-opacity="0.5" stroke="#E8472F" stroke-width="0.5" stroke-opacity="0.5"/>
<circle cx="106.4" cy="174.2" r="2" fill="#E8472F" fill-opacity="0.5" stroke="#E8472F" stroke-width="0.5" stroke-opacity="0.5"/>
<circle cx="104.6" cy="218.2" r="2" fill="#E8472F" fill-opacity="0.5" stroke="#E8472F" stroke-width="0.5" stroke-opacity="0.5"/>
<circle cx="102.8" cy="224.4" r="2" fill="#E8472F" fill-opacity="0.5" stroke="#E8472F" stroke-width="0.5" stroke-opacity="0.5"/>
<circle cx="107.8" cy="209.6" r="2" fill="#E8472F" fill-opacity="0.5" stroke="#E8472F" stroke-width="0.5" stroke-opacity="0.5"/>
</g>
<rect x="20.5" y="161.65" width="115.5" height="101.85" fill="none" stroke="#333333" stroke-width="1"/>
<line x1="17.9" y1="258.7" x2="20.5" y2="258.7" stroke="#333333" stroke-width="0.7"/>
<text x="15.3" y="260.8" font-size="5.7" text-anchor="end" fill="#000">0</text>
<line x1="17.9" y1="239.44" x2="20.5" y2="239.44" stroke="#333333" stroke-width="0.7"/>
<text x="15.3" y="241.54" font-size="5.7" text-anchor="end" fill="#000">1</text>
<line x1="17.9" y1="220.18" x2="20.5" y2="220.18" stroke="#333333" stroke-width="0.7"/>
<text x="15.3" y="222.28" font-size="5.7" text-anchor="end" fill="#000">2</text>
<line x1="17.9" y1="200.92" x2="20.5" y2="200.92" stroke="#333333" stroke-width="0.7"/>
<text x="15.3" y="203.02" font-size="5.7" text-anchor="end" fill="#000">3</text>
<line x1="17.9" y1="181.66" x2="20.5" y2="181.66" stroke="#333333" stroke-width="0.7"/>
<text x="15.3" y="183.76" font-size="5.7" text-anchor="end" fill="#000">4</text>
<line x1="17.9" y1="162.4" x2="20.5" y2="162.4" stroke="#333333" stroke-width="0.7"/>
<text x="15.3" y="164.5" font-size="5.7" text-anchor="end" fill="#000">5</text>
<line x1="45.6" y1="263.5" x2="45.6" y2="266.1" stroke="#333333" stroke-width="0.7"/>
<text x="45.6" y="272.5" font-size="5.7" text-anchor="middle" fill="#000">-2</text>
<line x1="78" y1="263.5" x2="78" y2="266.1" stroke="#333333" stroke-width="0.7"/>
<text x="78" y="272.5" font-size="5.7" text-anchor="middle" fill="#000">0</text>
<line x1="110.4" y1="263.5" x2="110.4" y2="266.1" stroke="#333333" stroke-width="0.7"/>
<text x="110.4" y="272.5" font-size="5.7" text-anchor="middle" fill="#000">2</text>
<text x="78.3" y="282.1" font-size="7.15" text-anchor="middle" fill="#000">Log<tspan font-size="5" dy="1.5">2</tspan><tspan dy="-1.5"> (Fold Change)</tspan></text>
<text x="6.2" y="211.5" font-size="7.2" text-anchor="middle" fill="#000" transform="rotate(-90 6.2 211.5)">-Log<tspan font-size="5" dy="1.5">10</tspan><tspan dy="-1.5"> (P.adj)</tspan></text>
<text x="190.5" y="152.4" font-size="5.2" text-anchor="start" fill="#000" font-weight="bold">D</text>
<text x="266.6" y="150.8" font-size="7.07" text-anchor="middle" fill="#000">GSE23035 shBAP1#2 vs. shControl</text>
<circle cx="229.9" cy="156.8" r="2.35" fill="#4DBBD5" fill-opacity="0.5"/>
<text x="236" y="158.55" font-size="5.1" text-anchor="start" fill="#000">Down</text>
<circle cx="255.8" cy="156.8" r="2.35" fill="#808080" fill-opacity="0.5"/>
<text x="262.6" y="158.55" font-size="5.1" text-anchor="start" fill="#000">no significant</text>
<circle cx="298.1" cy="156.8" r="2.35" fill="#E64B35" fill-opacity="0.5"/>
<text x="305.8" y="158.55" font-size="5.1" text-anchor="start" fill="#000">Up</text>
<rect x="209.3" y="161.75" width="115.4" height="101.8" fill="#ffffff"/>
<line x1="224.09" y1="161.75" x2="224.09" y2="263.55" stroke="#f3f3f3" stroke-width="0.35"/>
<line x1="252.66" y1="161.75" x2="252.66" y2="263.55" stroke="#f3f3f3" stroke-width="0.35"/>
<line x1="281.24" y1="161.75" x2="281.24" y2="263.55" stroke="#f3f3f3" stroke-width="0.35"/>
<line x1="309.81" y1="161.75" x2="309.81" y2="263.55" stroke="#f3f3f3" stroke-width="0.35"/>
<line x1="209.3" y1="242.26" x2="324.7" y2="242.26" stroke="#f3f3f3" stroke-width="0.35"/>
<line x1="209.3" y1="208.78" x2="324.7" y2="208.78" stroke="#f3f3f3" stroke-width="0.35"/>
<line x1="209.3" y1="175.3" x2="324.7" y2="175.3" stroke="#f3f3f3" stroke-width="0.35"/>
<line x1="209.8" y1="161.75" x2="209.8" y2="263.55" stroke="#ebebeb" stroke-width="0.6"/>
<line x1="238.38" y1="161.75" x2="238.38" y2="263.55" stroke="#ebebeb" stroke-width="0.6"/>
<line x1="266.95" y1="161.75" x2="266.95" y2="263.55" stroke="#ebebeb" stroke-width="0.6"/>
<line x1="295.52" y1="161.75" x2="295.52" y2="263.55" stroke="#ebebeb" stroke-width="0.6"/>
<line x1="324.1" y1="161.75" x2="324.1" y2="263.55" stroke="#ebebeb" stroke-width="0.6"/>
<line x1="209.3" y1="259" x2="324.7" y2="259" stroke="#ebebeb" stroke-width="0.6"/>
<line x1="209.3" y1="225.52" x2="324.7" y2="225.52" stroke="#ebebeb" stroke-width="0.6"/>
<line x1="209.3" y1="192.04" x2="324.7" y2="192.04" stroke="#ebebeb" stroke-width="0.6"/>
<line x1="209.3" y1="237.37" x2="324.7" y2="237.37" stroke="#444444" stroke-width="0.75" stroke-dasharray="5.6 2.1"/>
<line x1="255.52" y1="161.75" x2="255.52" y2="263.55" stroke="#444444" stroke-width="0.75" stroke-dasharray="5.6 2.1"/>
<line x1="278.38" y1="161.75" x2="278.38" y2="263.55" stroke="#444444" stroke-width="0.75" stroke-dasharray="5.6 2.1"/>
<g clip-path="url(#clipD)">
<clipPath id="clipD"><rect x="209.3" y="161.75" width="115.4" height="101.8"/></clipPath>
<polygon points="255.1,182 248,181.5 244.6,182.2 242,186.3 240.8,191.3 240.6,197.5 239.5,202.5 238.6,208 238.9,212.5 242,216.3 244.5,221.3 246.4,226.9 250.1,231.3 253.3,235.6 255.1,236.5" fill="#46B4D1"/>
<circle cx="247.01" cy="180.82" r="1.5" fill="#46B4D1" fill-opacity="0.7"/>
<circle cx="246.7" cy="182.99" r="1.5" fill="#46B4D1" fill-opacity="0.7"/>
<circle cx="245.08" cy="183.68" r="1.5" fill="#46B4D1" fill-opacity="0.7"/>
<circle cx="244.52" cy="182.58" r="1.5" fill="#46B4D1" fill-opacity="0.7"/>
<circle cx="243.9" cy="184.65" r="1.5" fill="#46B4D1" fill-opacity="0.7"/>
<circle cx="243.06" cy="185.22" r="1.5" fill="#46B4D1" fill-opacity="0.7"/>
<circle cx="242.59" cy="184.92" r="1.5" fill="#46B4D1" fill-opacity="0.7"/>
<circle cx="241.88" cy="186.88" r="1.5" fill="#46B4D1" fill-opacity="0.7"/>
<circle cx="241.69" cy="188.95" r="1.5" fill="#46B4D1" fill-opacity="0.7"/>
<circle cx="241.68" cy="190.29" r="1.5" fill="#46B4D1" fill-opacity="0.7"/>
<circle cx="241.31" cy="192.66" r="1.5" fill="#46B4D1" fill-opacity="0.7"/>
<circle cx="241.15" cy="193.34" r="1.5" fill="#46B4D1" fill-opacity="0.7"/>
<circle cx="241.22" cy="195.24" r="1.5" fill="#46B4D1" fill-opacity="0.7"/>
<circle cx="240.6" cy="193.93" r="1.5" fill="#46B4D1" fill-opacity="0.7"/>
<circle cx="241.05" cy="196.72" r="1.5" fill="#46B4D1" fill-opacity="0.7"/>
<circle cx="241.14" cy="197.55" r="1.5" fill="#46B4D1" fill-opacity="0.7"/>
<circle cx="240.89" cy="198.9" r="1.5" fill="#46B4D1" fill-opacity="0.7"/>
<circle cx="241.13" cy="200.79" r="1.5" fill="#46B4D1" fill-opacity="0.7"/>
<circle cx="240.18" cy="201.18" r="1.5" fill="#46B4D1" fill-opacity="0.7"/>
<circle cx="239.86" cy="201.83" r="1.5" fill="#46B4D1" fill-opacity="0.7"/>
<circle cx="239.82" cy="203.72" r="1.5" fill="#46B4D1" fill-opacity="0.7"/>
<circle cx="239.58" cy="203.88" r="1.5" fill="#46B4D1" fill-opacity="0.7"/>
<circle cx="239.93" cy="205.09" r="1.5" fill="#46B4D1" fill-opacity="0.7"/>
<circle cx="238.48" cy="206.67" r="1.5" fill="#46B4D1" fill-opacity="0.7"/>
<circle cx="239.87" cy="207.3" r="1.5" fill="#46B4D1" fill-opacity="0.7"/>
<circle cx="238.84" cy="208.31" r="1.5" fill="#46B4D1" fill-opacity="0.7"/>
<circle cx="239.94" cy="209.53" r="1.5" fill="#46B4D1" fill-opacity="0.7"/>
<circle cx="239.57" cy="210.01" r="1.5" fill="#46B4D1" fill-opacity="0.7"/>
<circle cx="239.76" cy="211.6" r="1.5" fill="#46B4D1" fill-opacity="0.7"/>
<circle cx="240.72" cy="211.34" r="1.5" fill="#46B4D1" fill-opacity="0.7"/>
<circle cx="239.95" cy="214.15" r="1.5" fill="#46B4D1" fill-opacity="0.7"/>
<circle cx="241.75" cy="214.21" r="1.5" fill="#46B4D1" fill-opacity="0.7"/>
<circle cx="241.54" cy="215.12" r="1.5" fill="#46B4D1" fill-opacity="0.7"/>
<circle cx="242.44" cy="216.01" r="1.5" fill="#46B4D1" fill-opacity="0.7"/>
<circle cx="242.58" cy="217.08" r="1.5" fill="#46B4D1" fill-opacity="0.7"/>
<circle cx="243.76" cy="217.46" r="1.5" fill="#46B4D1" fill-opacity="0.7"/>
<circle cx="243.88" cy="220.35" r="1.5" fill="#46B4D1" fill-opacity="0.7"/>
<circle cx="244.55" cy="220.28" r="1.5" fill="#46B4D1" fill-opacity="0.7"/>
<circle cx="244.85" cy="220.21" r="1.5" fill="#46B4D1" fill-opacity="0.7"/>
<circle cx="245" cy="223.92" r="1.5" fill="#46B4D1" fill-opacity="0.7"/>
<circle cx="245.33" cy="223.85" r="1.5" fill="#46B4D1" fill-opacity="0.7"/>
<circle cx="245.71" cy="224.59" r="1.5" fill="#46B4D1" fill-opacity="0.7"/>
<circle cx="246.37" cy="226.66" r="1.5" fill="#46B4D1" fill-opacity="0.7"/>
<circle cx="246.42" cy="226.12" r="1.5" fill="#46B4D1" fill-opacity="0.7"/>
<circle cx="247.51" cy="228.03" r="1.5" fill="#46B4D1" fill-opacity="0.7"/>
<circle cx="248.51" cy="229.55" r="1.5" fill="#46B4D1" fill-opacity="0.7"/>
<circle cx="248.46" cy="227.57" r="1.5" fill="#46B4D1" fill-opacity="0.7"/>
<circle cx="249.71" cy="230.92" r="1.5" fill="#46B4D1" fill-opacity="0.7"/>
<circle cx="250.47" cy="232.1" r="1.5" fill="#46B4D1" fill-opacity="0.7"/>
<circle cx="251.23" cy="231.77" r="1.5" fill="#46B4D1" fill-opacity="0.7"/>
<circle cx="251.81" cy="232.5" r="1.5" fill="#46B4D1" fill-opacity="0.7"/>
<circle cx="253.15" cy="235.36" r="1.5" fill="#46B4D1" fill-opacity="0.7"/>
<polygon points="278.2,182 286,181.3 292.5,181.8 295,185.2 297.2,191 295.8,197 293,201 289.6,206.1 287.3,210.3 285.2,215 283.1,218.75 280.6,225 278.75,230 278.2,231" fill="#E8472F"/>
<circle cx="286.84" cy="182.02" r="1.5" fill="#E8472F" fill-opacity="0.7"/>
<circle cx="287.83" cy="181.47" r="1.5" fill="#E8472F" fill-opacity="0.7"/>
<circle cx="289.43" cy="183.21" r="1.5" fill="#E8472F" fill-opacity="0.7"/>
<circle cx="290.8" cy="182.72" r="1.5" fill="#E8472F" fill-opacity="0.7"/>
<circle cx="291.12" cy="182.88" r="1.5" fill="#E8472F" fill-opacity="0.7"/>
<circle cx="292.65" cy="183.62" r="1.5" fill="#E8472F" fill-opacity="0.7"/>
<circle cx="293.81" cy="184.52" r="1.5" fill="#E8472F" fill-opacity="0.7"/>
<circle cx="294.66" cy="182.96" r="1.5" fill="#E8472F" fill-opacity="0.7"/>
<circle cx="294.73" cy="187.01" r="1.5" fill="#E8472F" fill-opacity="0.7"/>
<circle cx="295.3" cy="187.77" r="1.5" fill="#E8472F" fill-opacity="0.7"/>
<circle cx="295.15" cy="189.73" r="1.5" fill="#E8472F" fill-opacity="0.7"/>
<circle cx="296.17" cy="188.94" r="1.5" fill="#E8472F" fill-opacity="0.7"/>
<circle cx="296.58" cy="190.77" r="1.5" fill="#E8472F" fill-opacity="0.7"/>
<circle cx="296.24" cy="192.92" r="1.5" fill="#E8472F" fill-opacity="0.7"/>
<circle cx="296.28" cy="193.14" r="1.5" fill="#E8472F" fill-opacity="0.7"/>
<circle cx="295.73" cy="194.78" r="1.5" fill="#E8472F" fill-opacity="0.7"/>
<circle cx="296.51" cy="194.84" r="1.5" fill="#E8472F" fill-opacity="0.7"/>
<circle cx="295.88" cy="196.44" r="1.5" fill="#E8472F" fill-opacity="0.7"/>
<circle cx="293.98" cy="198.72" r="1.5" fill="#E8472F" fill-opacity="0.7"/>
<circle cx="293.96" cy="199.08" r="1.5" fill="#E8472F" fill-opacity="0.7"/>
<circle cx="293.84" cy="199.53" r="1.5" fill="#E8472F" fill-opacity="0.7"/>
<circle cx="292.29" cy="201.29" r="1.5" fill="#E8472F" fill-opacity="0.7"/>
<circle cx="290.47" cy="202.65" r="1.5" fill="#E8472F" fill-opacity="0.7"/>
<circle cx="291.2" cy="202.88" r="1.5" fill="#E8472F" fill-opacity="0.7"/>
<circle cx="290.35" cy="203.72" r="1.5" fill="#E8472F" fill-opacity="0.7"/>
<circle cx="290.7" cy="204.41" r="1.5" fill="#E8472F" fill-opacity="0.7"/>
<circle cx="290.08" cy="205.39" r="1.5" fill="#E8472F" fill-opacity="0.7"/>
<circle cx="288.8" cy="205.84" r="1.5" fill="#E8472F" fill-opacity="0.7"/>
<circle cx="288.65" cy="207.29" r="1.5" fill="#E8472F" fill-opacity="0.7"/>
<circle cx="287.83" cy="207.28" r="1.5" fill="#E8472F" fill-opacity="0.7"/>
<circle cx="287.65" cy="208.76" r="1.5" fill="#E8472F" fill-opacity="0.7"/>
<circle cx="287.19" cy="210.2" r="1.5" fill="#E8472F" fill-opacity="0.7"/>
<circle cx="286.65" cy="211.65" r="1.5" fill="#E8472F" fill-opacity="0.7"/>
<circle cx="286.35" cy="211.33" r="1.5" fill="#E8472F" fill-opacity="0.7"/>
<circle cx="285.47" cy="214.42" r="1.5" fill="#E8472F" fill-opacity="0.7"/>
<circle cx="284.89" cy="215.56" r="1.5" fill="#E8472F" fill-opacity="0.7"/>
<circle cx="284.09" cy="216.55" r="1.5" fill="#E8472F" fill-opacity="0.7"/>
<circle cx="283.41" cy="218.64" r="1.5" fill="#E8472F" fill-opacity="0.7"/>
<circle cx="282.92" cy="218.95" r="1.5" fill="#E8472F" fill-opacity="0.7"/>
<circle cx="282.59" cy="219.79" r="1.5" fill="#E8472F" fill-opacity="0.7"/>
<circle cx="282.43" cy="220.17" r="1.5" fill="#E8472F" fill-opacity="0.7"/>
<circle cx="281.6" cy="222.41" r="1.5" fill="#E8472F" fill-opacity="0.7"/>
<circle cx="281.62" cy="222.28" r="1.5" fill="#E8472F" fill-opacity="0.7"/>
<circle cx="281.18" cy="223.23" r="1.5" fill="#E8472F" fill-opacity="0.7"/>
<circle cx="280.21" cy="226.19" r="1.5" fill="#E8472F" fill-opacity="0.7"/>
<circle cx="279.79" cy="227.2" r="1.5" fill="#E8472F" fill-opacity="0.7"/>
<circle cx="279.28" cy="228.71" r="1.5" fill="#E8472F" fill-opacity="0.7"/>
<circle cx="279.42" cy="228.06" r="1.5" fill="#E8472F" fill-opacity="0.7"/>
<polygon points="255.2,187 255.91,187.46 256.5,188.09 257.18,188.84 257.89,189.66 258.56,190.49 259.1,191.3 259.52,192.06 259.87,192.82 260.18,193.6 260.46,194.42 260.73,195.31 261,196.3 261.28,197.39 261.54,198.57 261.79,199.82 262.04,201.12 262.27,202.45 262.5,203.8 262.72,205.14 262.93,206.47 263.12,207.84 263.32,209.27 263.51,210.82 263.7,212.5 263.89,214.4 264.07,216.51 264.25,218.73 264.43,220.95 264.61,223.08 264.8,225 264.99,226.7 265.19,228.26 265.38,229.72 265.58,231.13 265.79,232.54 266,234 266.24,235.6 266.5,237.33 266.77,239.06 267.03,240.67 267.25,242.02 267.4,243 267.55,242.02 267.77,240.67 268.02,239.06 268.3,237.33 268.56,235.6 268.8,234 269.01,232.54 269.22,231.13 269.42,229.72 269.61,228.26 269.81,226.7 270,225 270.19,223.08 270.37,220.95 270.55,218.73 270.73,216.51 270.91,214.4 271.1,212.5 271.29,210.82 271.48,209.27 271.67,207.84 271.87,206.47 272.08,205.14 272.3,203.8 272.53,202.45 272.76,201.12 273.01,199.82 273.26,198.57 273.52,197.39 273.8,196.3 274.07,195.31 274.34,194.42 274.62,193.6 274.93,192.82 275.28,192.06 275.7,191.3 276.24,190.49 276.91,189.66 277.62,188.84 278.3,188.09 278.89,187.46 279.2,187 279.2,230 278.98,230.44 278.67,231.04 278.3,231.75 277.91,232.52 277.53,233.29 277.2,234 276.91,234.63 276.63,235.22 276.36,235.81 276.1,236.44 275.85,237.16 275.6,238 275.36,238.99 275.12,240.11 274.89,241.31 274.66,242.56 274.43,243.8 274.2,245 273.98,246.19 273.76,247.41 273.55,248.62 273.33,249.81 273.08,250.95 272.8,252 272.48,252.97 272.12,253.89 271.74,254.75 271.35,255.56 270.96,256.31 270.6,257 270.25,257.64 269.9,258.22 269.56,258.74 269.23,259.21 268.91,259.63 268.6,260 268.29,260.31 267.98,260.55 267.68,260.74 267.4,260.89 267.17,261 267,261.1 267,261.1 266.83,261 266.6,260.89 266.32,260.74 266.02,260.55 265.71,260.31 265.4,260 265.09,259.63 264.78,259.21 264.45,258.74 264.11,258.22 263.76,257.64 263.4,257 263.02,256.31 262.63,255.56 262.23,254.75 261.81,253.89 261.4,252.97 261,252 260.6,250.95 260.19,249.81 259.78,248.62 259.37,247.41 258.98,246.19 258.6,245 258.24,243.81 257.88,242.59 257.54,241.38 257.21,240.19 256.89,239.05 256.6,238 256.32,236.99 256.04,236 255.78,235.06 255.54,234.22 255.35,233.52 255.2,233" fill="#5a5a5a"/>
<circle cx="263.83" cy="258.46" r="0.95" fill="#757575" fill-opacity="0.45"/>
<circle cx="257.12" cy="246.98" r="0.95" fill="#757575" fill-opacity="0.45"/>
<circle cx="264.15" cy="258.56" r="0.95" fill="#757575" fill-opacity="0.45"/>
<circle cx="264.7" cy="259.15" r="0.95" fill="#757575" fill-opacity="0.45"/>
<circle cx="258.21" cy="251.04" r="0.95" fill="#757575" fill-opacity="0.45"/>
<circle cx="253.94" cy="241.9" r="0.95" fill="#757575" fill-opacity="0.45"/>
<circle cx="264.7" cy="260.52" r="0.95" fill="#757575" fill-opacity="0.45"/>
<circle cx="260.95" cy="253.48" r="0.95" fill="#757575" fill-opacity="0.45"/>
<circle cx="257.77" cy="241.84" r="0.95" fill="#757575" fill-opacity="0.45"/>
<circle cx="257.57" cy="247.95" r="0.95" fill="#757575" fill-opacity="0.45"/>
<circle cx="264.39" cy="260.43" r="0.95" fill="#757575" fill-opacity="0.45"/>
<circle cx="259.1" cy="247.56" r="0.95" fill="#757575" fill-opacity="0.45"/>
<circle cx="260.62" cy="253.07" r="0.95" fill="#757575" fill-opacity="0.45"/>
<circle cx="263.19" cy="258.38" r="0.95" fill="#757575" fill-opacity="0.45"/>
<circle cx="260.74" cy="254.3" r="0.95" fill="#757575" fill-opacity="0.45"/>
<circle cx="261.02" cy="254.17" r="0.95" fill="#757575" fill-opacity="0.45"/>
<circle cx="259.41" cy="254.55" r="0.95" fill="#757575" fill-opacity="0.45"/>
<circle cx="258.27" cy="246.92" r="0.95" fill="#757575" fill-opacity="0.45"/>
<circle cx="277.37" cy="243.39" r="0.95" fill="#757575" fill-opacity="0.45"/>
<circle cx="273.86" cy="252.93" r="0.95" fill="#757575" fill-opacity="0.45"/>
<circle cx="271.89" cy="256.53" r="0.95" fill="#757575" fill-opacity="0.45"/>
<circle cx="270.77" cy="256.26" r="0.95" fill="#757575" fill-opacity="0.45"/>
<circle cx="274.23" cy="249.02" r="0.95" fill="#757575" fill-opacity="0.45"/>
<circle cx="274.46" cy="245.98" r="0.95" fill="#757575" fill-opacity="0.45"/>
<circle cx="276.58" cy="247.83" r="0.95" fill="#757575" fill-opacity="0.45"/>
<circle cx="270.62" cy="258.25" r="0.95" fill="#757575" fill-opacity="0.45"/>
<circle cx="275.74" cy="238.4" r="0.95" fill="#757575" fill-opacity="0.45"/>
<circle cx="270.03" cy="259.62" r="0.95" fill="#757575" fill-opacity="0.45"/>
<circle cx="272.52" cy="252.06" r="0.95" fill="#757575" fill-opacity="0.45"/>
<circle cx="274.57" cy="247.77" r="0.95" fill="#757575" fill-opacity="0.45"/>
<circle cx="270.72" cy="257.2" r="0.95" fill="#757575" fill-opacity="0.45"/>
<circle cx="269.61" cy="259.95" r="0.95" fill="#757575" fill-opacity="0.45"/>
<circle cx="270.9" cy="258.01" r="0.95" fill="#757575" fill-opacity="0.45"/>
<circle cx="275.37" cy="240.89" r="0.95" fill="#757575" fill-opacity="0.45"/>
<circle cx="275.62" cy="250.48" r="0.95" fill="#757575" fill-opacity="0.45"/>
<circle cx="273.37" cy="254.92" r="0.95" fill="#757575" fill-opacity="0.45"/>
<circle cx="272.61" cy="257.39" r="0.95" fill="#757575" fill-opacity="0.45"/>
<circle cx="237" cy="173.75" r="2" fill="#46B4D1" fill-opacity="0.5" stroke="#46B4D1" stroke-width="0.5" stroke-opacity="0.5"/>
<circle cx="243.9" cy="180" r="2" fill="#46B4D1" fill-opacity="0.5" stroke="#46B4D1" stroke-width="0.5" stroke-opacity="0.5"/>
<circle cx="237" cy="186" r="2" fill="#46B4D1" fill-opacity="0.5" stroke="#46B4D1" stroke-width="0.5" stroke-opacity="0.5"/>
<circle cx="229.5" cy="190" r="2" fill="#46B4D1" fill-opacity="0.5" stroke="#46B4D1" stroke-width="0.5" stroke-opacity="0.5"/>
<circle cx="235.1" cy="198.1" r="2" fill="#46B4D1" fill-opacity="0.5" stroke="#46B4D1" stroke-width="0.5" stroke-opacity="0.5"/>
<circle cx="238.25" cy="203.1" r="2" fill="#46B4D1" fill-opacity="0.5" stroke="#46B4D1" stroke-width="0.5" stroke-opacity="0.5"/>
<circle cx="235.75" cy="206.25" r="2" fill="#46B4D1" fill-opacity="0.5" stroke="#46B4D1" stroke-width="0.5" stroke-opacity="0.5"/>
<circle cx="245.75" cy="237" r="2" fill="#46B4D1" fill-opacity="0.5" stroke="#46B4D1" stroke-width="0.5" stroke-opacity="0.5"/>
<circle cx="237.2" cy="205.2" r="2" fill="#46B4D1" fill-opacity="0.5" stroke="#46B4D1" stroke-width="0.5" stroke-opacity="0.5"/>
<circle cx="291.3" cy="167.6" r="2" fill="#E8472F" fill-opacity="0.5" stroke="#E8472F" stroke-width="0.5" stroke-opacity="0.5"/>
<circle cx="300.2" cy="167.6" r="2" fill="#E8472F" fill-opacity="0.5" stroke="#E8472F" stroke-width="0.5" stroke-opacity="0.5"/>
<circle cx="319.8" cy="166.4" r="2" fill="#E8472F" fill-opacity="0.5" stroke="#E8472F" stroke-width="0.5" stroke-opacity="0.5"/>
<circle cx="306.7" cy="182.3" r="2" fill="#E8472F" fill-opacity="0.5" stroke="#E8472F" stroke-width="0.5" stroke-opacity="0.5"/>
<circle cx="304.7" cy="185.2" r="2" fill="#E8472F" fill-opacity="0.5" stroke="#E8472F" stroke-width="0.5" stroke-opacity="0.5"/>
<circle cx="307.6" cy="186.8" r="2" fill="#E8472F" fill-opacity="0.5" stroke="#E8472F" stroke-width="0.5" stroke-opacity="0.5"/>
<circle cx="296.3" cy="186" r="2" fill="#E8472F" fill-opacity="0.5" stroke="#E8472F" stroke-width="0.5" stroke-opacity="0.5"/>
<circle cx="288.3" cy="179.8" r="2" fill="#E8472F" fill-opacity="0.5" stroke="#E8472F" stroke-width="0.5" stroke-opacity="0.5"/>
<circle cx="284.4" cy="221.9" r="2" fill="#E8472F" fill-opacity="0.5" stroke="#E8472F" stroke-width="0.5" stroke-opacity="0.5"/>
<circle cx="279.6" cy="230.2" r="2" fill="#E8472F" fill-opacity="0.5" stroke="#E8472F" stroke-width="0.5" stroke-opacity="0.5"/>
</g>
<rect x="209.3" y="161.75" width="115.4" height="101.8" fill="none" stroke="#333333" stroke-width="1"/>
<line x1="206.7" y1="259" x2="209.3" y2="259" stroke="#333333" stroke-width="0.7"/>
<text x="204.1" y="261.1" font-size="5.7" text-anchor="end" fill="#000">0</text>
<line x1="206.7" y1="225.52" x2="209.3" y2="225.52" stroke="#333333" stroke-width="0.7"/>
<text x="204.1" y="227.62" font-size="5.7" text-anchor="end" fill="#000">2</text>
<line x1="206.7" y1="192.04" x2="209.3" y2="192.04" stroke="#333333" stroke-width="0.7"/>
<text x="204.1" y="194.14" font-size="5.7" text-anchor="end" fill="#000">4</text>
<line x1="209.8" y1="263.55" x2="209.8" y2="266.15" stroke="#333333" stroke-width="0.7"/>
<text x="209.8" y="272.55" font-size="5.7" text-anchor="middle" fill="#000">-5.0</text>
<line x1="238.38" y1="263.55" x2="238.38" y2="266.15" stroke="#333333" stroke-width="0.7"/>
<text x="238.38" y="272.55" font-size="5.7" text-anchor="middle" fill="#000">-2.5</text>
<line x1="266.95" y1="263.55" x2="266.95" y2="266.15" stroke="#333333" stroke-width="0.7"/>
<text x="266.95" y="272.55" font-size="5.7" text-anchor="middle" fill="#000">0.0</text>
<line x1="295.52" y1="263.55" x2="295.52" y2="266.15" stroke="#333333" stroke-width="0.7"/>
<text x="295.52" y="272.55" font-size="5.7" text-anchor="middle" fill="#000">2.5</text>
<line x1="324.1" y1="263.55" x2="324.1" y2="266.15" stroke="#333333" stroke-width="0.7"/>
<text x="324.1" y="272.55" font-size="5.7" text-anchor="middle" fill="#000">5.0</text>
<text x="267.25" y="282.1" font-size="7.15" text-anchor="middle" fill="#000">Log<tspan font-size="5" dy="1.5">2</tspan><tspan dy="-1.5"> (Fold Change)</tspan></text>
<text x="194.6" y="211.5" font-size="7.2" text-anchor="middle" fill="#000" transform="rotate(-90 194.6 211.5)">-Log<tspan font-size="5" dy="1.5">10</tspan><tspan dy="-1.5"> (P.adj)</tspan></text>
<text x="92" y="296.2" font-size="5.2" text-anchor="start" fill="#000" font-weight="bold">E</text>
<polygon points="109.51,323.49 107.87,325.37 106.51,327.5 105.44,329.87 104.68,332.46 104.23,335.25 104.09,338.21 104.26,341.34 104.74,344.59 105.54,347.94 106.63,351.38 108.02,354.88 109.7,358.4 111.64,361.92 113.84,365.42 116.28,368.87 118.94,372.23 121.8,375.5 124.84,378.63 128.03,381.62 131.36,384.42 134.79,387.03 138.3,389.43 141.87,391.59 145.46,393.49 149.05,395.14 152.61,396.5 156.11,397.57 159.53,398.35 162.85,398.83 166.03,399 169.05,398.86 171.89,398.42 174.53,397.67 176.95,396.62 179.12,395.29 181.04,393.67 182.68,391.79 184.04,389.66 185.11,387.29 185.87,384.7 186.32,381.91 186.46,378.95 186.29,375.82 185.81,372.57 185.01,369.21 183.92,365.78 182.53,362.28 180.85,358.76 178.91,355.24 176.71,351.74 174.27,348.29 171.61,344.93 168.75,341.66 165.71,338.53 162.52,335.54 159.19,332.74 155.76,330.13 152.25,327.73 148.68,325.57 145.09,323.67 141.5,322.02 137.94,320.66 134.44,319.58 131.02,318.81 127.7,318.33 124.52,318.16 121.5,318.3 118.66,318.74 116.02,319.49 113.6,320.54 111.43,321.87" fill="#4DBBD5" fill-opacity="0.42" stroke="#2e2e2e" stroke-width="0.75" stroke-linejoin="round"/>
<polygon points="131.19,309.31 129.99,310.75 129.07,312.45 128.44,314.39 128.1,316.57 128.06,318.95 128.32,321.53 128.86,324.28 129.7,327.18 130.82,330.22 132.22,333.36 133.88,336.59 135.8,339.88 137.95,343.2 140.32,346.53 142.89,349.84 145.65,353.12 148.56,356.32 151.62,359.44 154.8,362.44 158.07,365.31 161.4,368.01 164.78,370.54 168.17,372.86 171.56,374.97 174.91,376.85 178.2,378.48 181.4,379.85 184.49,380.95 187.45,381.77 190.26,382.31 192.88,382.56 195.31,382.52 197.53,382.19 199.51,381.57 201.24,380.67 202.71,379.49 203.91,378.05 204.83,376.35 205.46,374.41 205.8,372.23 205.84,369.85 205.58,367.27 205.04,364.52 204.2,361.62 203.07,358.58 201.68,355.44 200.02,352.21 198.1,348.92 195.95,345.6 193.58,342.27 191.01,338.96 188.25,335.68 185.34,332.48 182.28,329.36 179.1,326.36 175.83,323.49 172.5,320.79 169.12,318.26 165.73,315.94 162.34,313.83 158.99,311.95 155.7,310.32 152.5,308.95 149.41,307.85 146.45,307.03 143.64,306.49 141.02,306.24 138.59,306.28 136.37,306.61 134.39,307.23 132.66,308.13" fill="#E64B35" fill-opacity="0.42" stroke="#2e2e2e" stroke-width="0.75" stroke-linejoin="round"/>
<polygon points="202.71,309.31 201.24,308.13 199.51,307.23 197.53,306.61 195.31,306.28 192.88,306.24 190.26,306.49 187.45,307.03 184.49,307.85 181.4,308.95 178.2,310.32 174.91,311.95 171.56,313.83 168.17,315.94 164.78,318.26 161.4,320.79 158.07,323.49 154.8,326.36 151.62,329.36 148.56,332.48 145.65,335.68 142.89,338.96 140.32,342.27 137.95,345.6 135.8,348.92 133.88,352.21 132.22,355.44 130.82,358.58 129.7,361.62 128.86,364.52 128.32,367.27 128.06,369.85 128.1,372.23 128.44,374.41 129.07,376.35 129.99,378.05 131.19,379.49 132.66,380.67 134.39,381.57 136.37,382.19 138.59,382.52 141.02,382.56 143.64,382.31 146.45,381.77 149.41,380.95 152.5,379.85 155.7,378.48 158.99,376.85 162.34,374.97 165.73,372.86 169.12,370.54 172.5,368.01 175.83,365.31 179.1,362.44 182.28,359.44 185.34,356.32 188.25,353.12 191.01,349.84 193.58,346.53 195.95,343.2 198.1,339.88 200.02,336.59 201.68,333.36 203.07,330.22 204.2,327.18 205.04,324.28 205.58,321.53 205.84,318.95 205.8,316.57 205.46,314.39 204.83,312.45 203.91,310.75" fill="#00A087" fill-opacity="0.42" stroke="#2e2e2e" stroke-width="0.75" stroke-linejoin="round"/>
<polygon points="224.39,323.49 222.47,321.87 220.3,320.54 217.88,319.49 215.24,318.74 212.4,318.3 209.38,318.16 206.2,318.33 202.88,318.81 199.46,319.58 195.96,320.66 192.4,322.02 188.81,323.67 185.22,325.57 181.65,327.73 178.14,330.13 174.71,332.74 171.38,335.54 168.19,338.53 165.15,341.66 162.29,344.93 159.63,348.29 157.19,351.74 154.99,355.24 153.05,358.76 151.37,362.28 149.98,365.78 148.89,369.21 148.09,372.57 147.61,375.82 147.44,378.95 147.58,381.91 148.03,384.7 148.79,387.29 149.86,389.66 151.22,391.79 152.86,393.67 154.78,395.29 156.95,396.62 159.37,397.67 162.01,398.42 164.85,398.86 167.87,399 171.05,398.83 174.37,398.35 177.79,397.57 181.29,396.5 184.85,395.14 188.44,393.49 192.03,391.59 195.6,389.43 199.11,387.03 202.54,384.42 205.87,381.62 209.06,378.63 212.1,375.5 214.96,372.23 217.62,368.87 220.06,365.42 222.26,361.92 224.2,358.4 225.88,354.88 227.27,351.38 228.36,347.94 229.16,344.59 229.64,341.34 229.81,338.21 229.67,335.25 229.22,332.46 228.46,329.87 227.39,327.5 226.03,325.37" fill="#3C5488" fill-opacity="0.40" stroke="#2e2e2e" stroke-width="0.75" stroke-linejoin="round"/>
<text x="134.6" y="301.6" font-size="5.45" text-anchor="middle" fill="#000">DOWN_shBAP1#1</text>
<text x="200.4" y="301.6" font-size="5.45" text-anchor="middle" fill="#000">UP_shBAP1#2</text>
<text x="110.5" y="316.5" font-size="5.45" text-anchor="middle" fill="#000">UP_shBAP1#1</text>
<text x="224.6" y="316.5" font-size="5.45" text-anchor="middle" fill="#000">DOWN_shBAP1#2</text>
<text x="146.3" y="317.9" font-size="4.7" text-anchor="middle" fill="#16181c">204</text>
<text x="187.6" y="317.9" font-size="4.7" text-anchor="middle" fill="#16181c">268</text>
<text x="167.1" y="329.3" font-size="4.7" text-anchor="middle" fill="#16181c">7</text>
<text x="139.5" y="331.3" font-size="4.7" text-anchor="middle" fill="#16181c">0</text>
<text x="194.8" y="331.3" font-size="4.7" text-anchor="middle" fill="#16181c">0</text>
<text x="152.9" y="345.1" font-size="4.7" text-anchor="middle" fill="#16181c">0</text>
<text x="181" y="345.1" font-size="4.7" text-anchor="middle" fill="#16181c">0</text>
<text x="124.2" y="352.6" font-size="4.7" text-anchor="middle" fill="#16181c">160</text>
<text x="209.7" y="352.6" font-size="4.7" text-anchor="middle" fill="#16181c">492</text>
<text x="166.8" y="359.3" font-size="4.7" text-anchor="middle" fill="#16181c">0</text>
<text x="139.9" y="368.1" font-size="4.7" text-anchor="middle" fill="#16181c">58</text>
<text x="193.7" y="368.1" font-size="4.7" text-anchor="middle" fill="#16181c">81</text>
<text x="155.4" y="373.9" font-size="4.7" text-anchor="middle" fill="#16181c">0</text>
<text x="178.7" y="373.9" font-size="4.7" text-anchor="middle" fill="#16181c">0</text>
<text x="166.8" y="388.5" font-size="4.7" text-anchor="middle" fill="#16181c">9</text>
</svg></body></html>
